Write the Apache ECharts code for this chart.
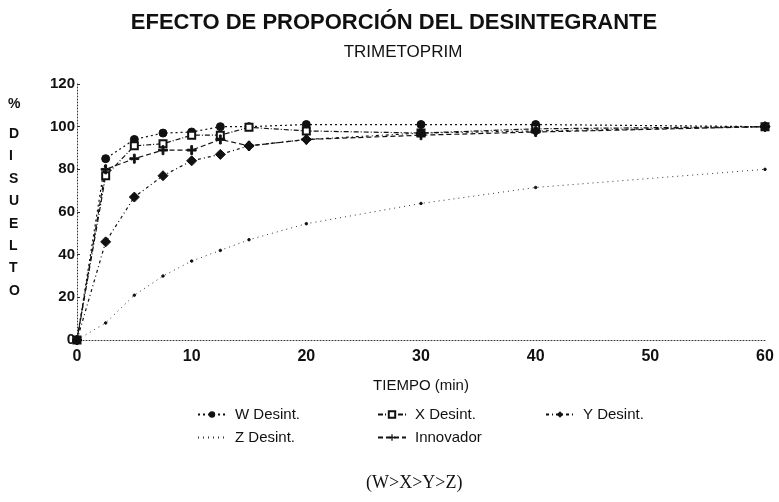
<!DOCTYPE html>
<html>
<head>
<meta charset="utf-8">
<script src="https://cdn.jsdelivr.net/npm/echarts@6/dist/echarts.min.js"></script>
<style>
  html, body { margin: 0; padding: 0; background: #fff; }
  #chart { width: 779px; height: 502px; }
</style>
</head>
<body>
<div id="chart"></div>
<script>
// Sampling times (min)
const tiempos = [0, 2.5, 5, 7.5, 10, 12.5, 15, 20, 30, 40, 60];

// % dissolved for each formulation
const wDesint   = [0, 85, 94, 97, 97.5, 100, 100, 101, 101, 101, 100];
const xDesint   = [0, 77, 91, 92, 96, 96, 99.7, 98, 97, 99, 100];
const yDesint   = [0, 46, 67, 77, 84, 87, 91, 94, 97, 98, 100];
const zDesint   = [0, 8, 21, 30, 37, 42, 47, 54.5, 64, 71.5, 80];
const innovador = [0, 80, 85, 89, 89, 94, 91, 94, 96, 97.5, 100];

const seriesNames = ['W Desint.', 'X Desint.', 'Y Desint.', 'Z Desint.', 'Innovador'];
const yTicks = [0, 20, 40, 60, 80, 100, 120];
const xTicks = [0, 10, 20, 30, 40, 50, 60];

const pair = (ys) => tiempos.map((t, i) => [t, ys[i]]);

const NARROW = '"Liberation Sans Narrow", "Liberation Sans", Arial, sans-serif';
const SANS = '"Liberation Sans", Arial, sans-serif';
const plus = 'path://M4,0 L6,0 L6,4 L10,4 L10,6 L6,6 L6,10 L4,10 L4,6 L0,6 L0,4 L4,4 Z';

function lineSeries(name, ys, symbol, size, dash, extra) {
  return Object.assign({
    name: name,
    type: 'line',
    data: pair(ys),
    symbol: symbol,
    symbolSize: size,
    showAllSymbol: true,
    lineStyle: { color: '#111', width: 1.2, type: dash },
    itemStyle: { color: '#111', borderColor: '#111' },
    animation: false
  }, extra || {});
}

const legendText = { fontFamily: SANS, fontSize: 15, color: '#111', padding: [0, 0, 0, 4] };

const chart = echarts.init(document.getElementById('chart'));
chart.setOption({
  backgroundColor: '#fff',
  animation: false,
  title: [
    {
      text: 'EFECTO DE PROPORCIÓN DEL DESINTEGRANTE',
      left: 389, top: 7, textAlign: 'center',
      textStyle: { fontFamily: SANS, fontSize: 22, fontWeight: 'bold', color: '#111' }
    },
    {
      text: 'TRIMETOPRIM',
      left: 398, top: 39, textAlign: 'center',
      textStyle: { fontFamily: SANS, fontSize: 17, fontWeight: 'normal', color: '#111' }
    }
  ],
  grid: { left: 77, right: 14, top: 84, bottom: 162, containLabel: false },
  xAxis: {
    type: 'value', min: 0, max: 60, interval: 10,
    name: 'TIEMPO (min)', nameLocation: 'middle', nameGap: 38,
    nameTextStyle: { fontFamily: SANS, fontSize: 15, color: '#111' },
    axisLine: { lineStyle: { color: '#333', type: [1, 2], width: 1 } },
    axisTick: { show: false },
    splitLine: { show: false },
    axisLabel: {
      margin: 9, fontFamily: NARROW, fontSize: 16, fontWeight: 'bold', color: '#111',
      formatter: (v) => xTicks.includes(v) ? String(v) : ''
    }
  },
  yAxis: {
    type: 'value', min: 0, max: 120, interval: 20,
    axisLine: { show: true, lineStyle: { color: '#333', type: [1, 2], width: 1 } },
    axisTick: { show: true, length: 3, inside: true, lineStyle: { color: '#333' } },
    splitLine: { show: false },
    axisLabel: {
      margin: 2, fontFamily: NARROW, fontSize: 15, fontWeight: 'bold', color: '#111',
      formatter: (v) => yTicks.includes(v) ? String(v) : ''
    }
  },
  legend: [
    {
      data: [seriesNames[0], { name: seriesNames[3], itemStyle: { opacity: 0 } }],
      orient: 'vertical', left: 192, top: 402, itemGap: 8,
      itemWidth: 28, itemHeight: 8, textStyle: legendText
    },
    {
      data: [seriesNames[1], seriesNames[4]],
      orient: 'vertical', left: 372, top: 402, itemGap: 8,
      itemWidth: 28, itemHeight: 8, textStyle: legendText
    },
    {
      data: [seriesNames[2]],
      orient: 'vertical', left: 540, top: 402, itemGap: 8,
      itemWidth: 28, itemHeight: 8, textStyle: legendText
    }
  ],
  graphic: [
    {
      type: 'text', left: 8, top: 97,
      style: { text: '%', fontFamily: SANS, fontSize: 14, fontWeight: 'bold', fill: '#111' }
    },
    {
      type: 'text', left: 9, top: 123,
      style: {
        text: 'D\nI\nS\nU\nE\nL\nT\nO', fontFamily: SANS, fontSize: 14, fontWeight: 'bold',
        fill: '#111', lineHeight: 22.4, align: 'center', width: 12
      }
    },
    {
      type: 'text', left: 366, top: 474,
      style: {
        text: '(W>X>Y>Z)', fontFamily: '"Liberation Serif", "Times New Roman", serif',
        fontSize: 18, fill: '#111'
      }
    }
  ],
  series: [
    lineSeries(seriesNames[0], wDesint, 'circle', 8, [2, 3]),
    lineSeries(seriesNames[1], xDesint, 'rect', 7, [5, 2, 1, 2], {
      itemStyle: { color: '#fff', borderColor: '#111', borderWidth: 2 }
    }),
    lineSeries(seriesNames[2], yDesint, 'diamond', 10, [3, 3, 1, 3]),
    lineSeries(seriesNames[3], zDesint, 'circle', 2.5, [1, 4], {
      lineStyle: { color: '#333', width: 1, type: [1, 4] }
    }),
    lineSeries(seriesNames[4], innovador, plus, 9, [5, 3])
  ]
});
</script>
</body>
</html>
